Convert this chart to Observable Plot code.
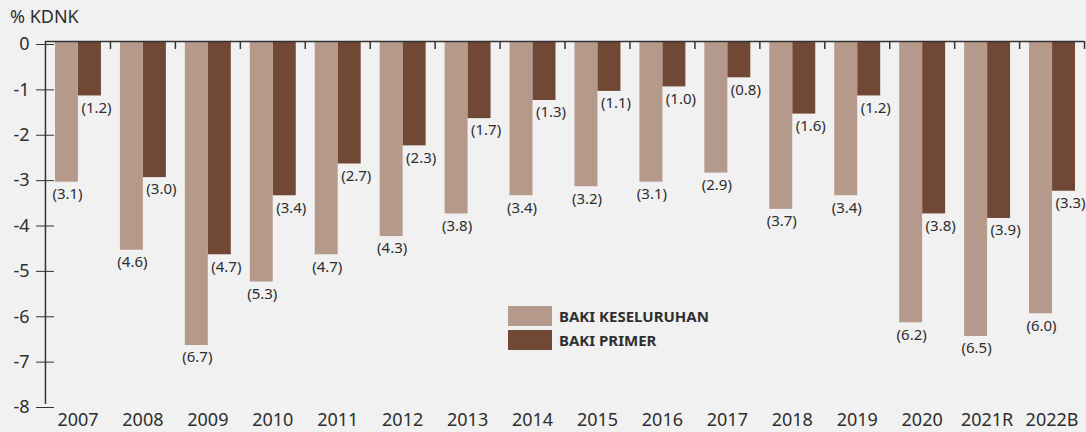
<!DOCTYPE html>
<html><head><meta charset="utf-8">
<script src="https://cdn.jsdelivr.net/npm/d3@7"></script>
<script src="https://cdn.jsdelivr.net/npm/@observablehq/plot@0.6"></script>
<style>
html,body{margin:0;padding:0;background:#f1f1f1;}
#wrap{position:relative;width:1086px;height:432px;font-family:"Noto Sans",sans-serif;color:#2e2e2e;}
#title{position:absolute;left:10px;top:7px;font-size:18px;line-height:1;}
#legend{position:absolute;left:508px;top:306px;font-size:15px;font-weight:bold;}
.item{display:flex;align-items:center;height:20px;margin-bottom:4px;white-space:nowrap;}
.sw{width:44px;height:20px;margin-right:7px;flex:0 0 44px;}
svg{display:block;}
</style></head><body><div id="wrap"><div id="title">% KDNK</div><div id="legend"></div></div>
<script>
const years = ["2007","2008","2009","2010","2011","2012","2013","2014","2015","2016","2017","2018","2019","2020","2021R","2022B"];
const overall = [-3.1,-4.6,-6.7,-5.3,-4.7,-4.3,-3.8,-3.4,-3.2,-3.1,-2.9,-3.7,-3.4,-6.2,-6.5,-6.0];
const primary = [-1.2,-3.0,-4.7,-3.4,-2.7,-2.3,-1.7,-1.3,-1.1,-1.0,-0.8,-1.6,-1.2,-3.8,-3.9,-3.3];
const seriesNames = ["BAKI KESELURUHAN","BAKI PRIMER"];
const seriesColors = ["#b59a8b","#714836"];
const yTicks = [0,-1,-2,-3,-4,-5,-6,-7,-8];

const dOverall = years.map((y,i)=>({year:y, value:overall[i]}));
const dPrimary = years.map((y,i)=>({year:y, value:primary[i]}));
const fmt = d => `(${Math.abs(d.value).toFixed(1)})`;
const ink = "#2e2e2e";

const chart = Plot.plot({
  width: 1086, height: 432,
  marginTop: 41, marginBottom: 28, marginLeft: 45, marginRight: 2,
  style: {background: "transparent", fontFamily: "'Noto Sans', sans-serif", color: ink},
  x: {domain: years, type: "band", paddingInner: 0, paddingOuter: 0, round: false, axis: null},
  y: {domain: [-8, 0], axis: null},
  marks: [
    Plot.barY(dOverall, {x: "year", y: "value", fill: seriesColors[0], insetLeft: 10, insetRight: 32}),
    Plot.barY(dPrimary, {x: "year", y: "value", fill: seriesColors[1], insetLeft: 33, insetRight: 9}),
    Plot.text(dOverall, {x: "year", y: "value", text: fmt, dx: -10.5, dy: 12, fontSize: 15, fill: ink}),
    Plot.text(dPrimary, {x: "year", y: "value", text: fmt, dx: 18.5, dy: 12, fontSize: 15, fill: ink}),
    Plot.ruleY([0], {stroke: "#333", strokeWidth: 1.5}),
    Plot.ruleX([years[0]], {x: d => d, dx: -32.5, stroke: "#333", strokeWidth: 1.5}),
    Plot.ruleX(years, {x: d => d, y1: 0, y2: 0, insetBottom: -8, dx: 32.5, stroke: "#333", strokeWidth: 1.5}),
    Plot.axisY(yTicks, {anchor: "left", label: null, tickSize: 18, dx: 9, tickPadding: 7, dy: 3, fontSize: 18, stroke: "#333", fill: ink, tickFormat: d => String(d)}),
    Plot.axisX({anchor: "bottom", label: null, tickSize: 0, tickPadding: 9, fontSize: 18, fill: ink})
  ]
});
document.getElementById("wrap").appendChild(chart);

const legend = document.getElementById("legend");
seriesNames.forEach((n,i)=>{
  const it = document.createElement("div"); it.className = "item";
  const sw = document.createElement("div"); sw.className = "sw"; sw.style.background = seriesColors[i];
  const lb = document.createElement("span"); lb.textContent = n;
  it.appendChild(sw); it.appendChild(lb); legend.appendChild(it);
});
</script>
</body></html>
